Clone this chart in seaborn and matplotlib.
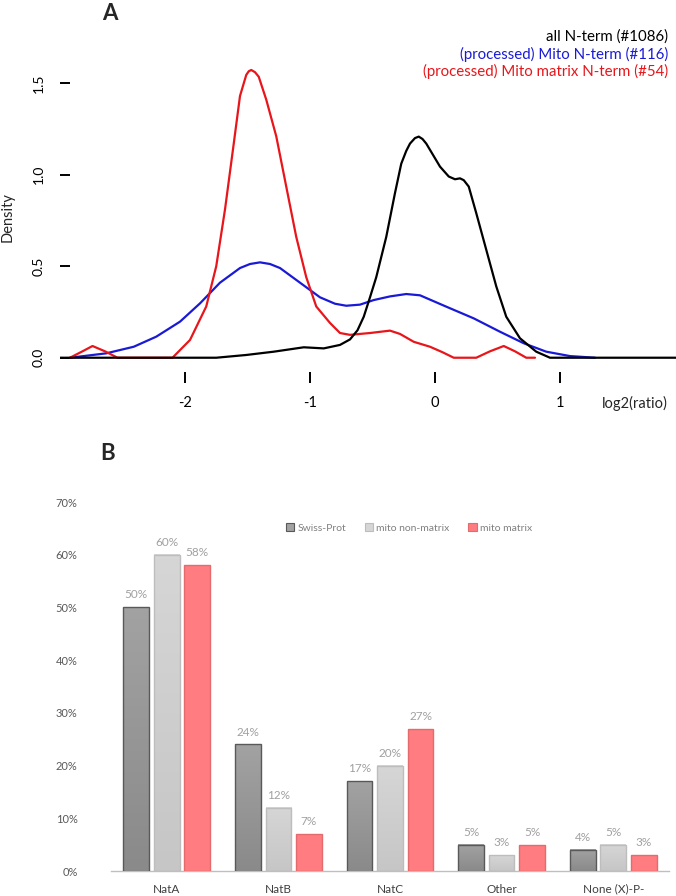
import numpy as np
import pandas as pd
import matplotlib
matplotlib.use("Agg")
import matplotlib.pyplot as plt
from matplotlib.patches import Patch
from matplotlib.colors import LinearSegmentedColormap
import seaborn as sns

# ---------------------------------------------------------------------------
# Panel A: density curves (log2 ratio -> density)
# ---------------------------------------------------------------------------

all_x = [-3.02, -1.75, -1.51, -1.29, -1.05, -0.89, -0.76, -0.68, -0.62, -0.57,
         -0.52, -0.47, -0.39, -0.32, -0.27, -0.23, -0.20, -0.16, -0.13, -0.10,
         -0.07, 0.04, 0.11, 0.16, 0.20, 0.23, 0.27, 0.33, 0.41, 0.49, 0.57,
         0.68, 0.81, 0.92, 1.95]
all_y = [0.0, 0.0, 0.015, 0.033, 0.057, 0.051, 0.07, 0.10, 0.15, 0.224,
         0.33, 0.44, 0.66, 0.90, 1.06, 1.13, 1.17, 1.20, 1.208, 1.195,
         1.17, 1.044, 0.99, 0.975, 0.98, 0.97, 0.935, 0.79, 0.59, 0.39, 0.224,
         0.106, 0.033, 0.0, 0.0]

mito_x = [-2.92, -2.63, -2.41, -2.23, -2.04, -1.88, -1.72, -1.56, -1.48, -1.40,
          -1.32, -1.24, -1.08, -0.92, -0.80, -0.71, -0.60, -0.49, -0.36, -0.23,
          -0.12, 0.09, 0.31, 0.52, 0.71, 0.89, 1.08, 1.28]
mito_y = [0.0, 0.024, 0.06, 0.115, 0.197, 0.297, 0.41, 0.49, 0.512, 0.521,
          0.512, 0.49, 0.41, 0.33, 0.295, 0.284, 0.29, 0.315, 0.335, 0.348,
          0.341, 0.279, 0.215, 0.142, 0.079, 0.033, 0.009, 0.0]

matrix_x = [-2.92, -2.82, -2.74, -2.64, -2.54, -2.10, -1.96, -1.83, -1.75, -1.68,
            -1.61, -1.56, -1.51, -1.49, -1.47, -1.44, -1.41, -1.35, -1.27, -1.19,
            -1.11, -1.03, -0.95, -0.84, -0.76, -0.68, -0.52, -0.36, -0.28,
            -0.17, -0.04, 0.06, 0.15, 0.33, 0.44, 0.55, 0.64, 0.73, 0.80]
matrix_y = [0.0, 0.035, 0.064, 0.035, 0.0, 0.0, 0.097, 0.28, 0.50, 0.81,
            1.17, 1.43, 1.545, 1.565, 1.572, 1.56, 1.535, 1.41, 1.21, 0.935,
            0.66, 0.44, 0.28, 0.19, 0.135, 0.125, 0.135, 0.148, 0.13,
            0.087, 0.06, 0.03, 0.0, 0.0, 0.035, 0.064, 0.035, 0.0, 0.0]

legend_a = ["all N-term (#1086)",
            "(processed) Mito N-term (#116)",
            "(processed) Mito matrix N-term (#54)"]
colors_a = ["black", "#1a1ad6", "#e8161b"]

# ---------------------------------------------------------------------------
# Panel B: N-terminal acetyltransferase classes (% of N-termini)
# ---------------------------------------------------------------------------

nat_classes = ["NatA", "NatB", "NatC", "Other", "None (X)-P-"]
groups = ["Swiss-Prot", "mito non-matrix", "mito matrix"]
swissprot = [50, 24, 17, 5, 4]
mito_nonmatrix = [60, 12, 20, 3, 5]
mito_matrix = [58, 7, 27, 5, 3]

bar_face = ["#a2a2a2", "#d6d6d6", "#ff7c80"]
bar_edge = ["#595959", "#bdbdbd", "#e36b6e"]
grad_bottom = ["#8a8a8a", "#c6c6c6", None]

df_b = pd.DataFrame({
    "cls": nat_classes * 3,
    "group": [g for g in groups for _ in nat_classes],
    "pct": swissprot + mito_nonmatrix + mito_matrix,
})

W, H = 676, 896
sns.set_theme(style="white")
plt.rcParams["font.family"] = ["Lato", "DejaVu Sans"]

fig = plt.figure(figsize=(W / 100, H / 100), dpi=100)


def fig_box(left, top, right, bottom):
    """Pixel box -> figure fraction rect."""
    return [left / W, 1 - bottom / H, (right - left) / W, (bottom - top) / H]


# ---------------------------------------------------------------------------
# Panel A
# ---------------------------------------------------------------------------
axA = fig.add_axes(fig_box(60, 61.2, 676, 372))
curves = [(mito_x, mito_y, colors_a[1]),
          (matrix_x, matrix_y, colors_a[2]),
          (all_x, all_y, colors_a[0])]
for xs, ys, c in curves:
    sns.lineplot(x=xs, y=ys, sort=False, estimator=None, color=c,
                 linewidth=1.6, ax=axA, solid_joinstyle="round")

axA.set_xlim(-3.0, 1.928)
axA.set_ylim(-0.078, 1.62)
for s in axA.spines.values():
    s.set_visible(False)
axA.set_xticks([-2, -1, 0, 1])
axA.set_xticklabels(["-2", "-1", "0", "1"], fontsize=10.5)
axA.set_yticks([0, 0.5, 1.0, 1.5])
axA.set_yticklabels(["0.0", "0.5", "1.0", "1.5"], fontsize=10,
                    rotation=90, va="center")
axA.tick_params(axis="x", direction="out", length=8, width=1.4, pad=9,
                bottom=True, colors="black")
axA.tick_params(axis="y", direction="in", length=7, width=1.4, pad=11,
                left=True, colors="black")
axA.set_ylabel("Density", fontsize=10.5)
axA.yaxis.set_label_coords(-0.073, 0.5)
axA.set_xlabel("")

fig.text(635 / W, 1 - 403 / H, "log2(ratio)", fontsize=10.5,
         ha="center", va="center")
for i, (lab, c) in enumerate(zip(legend_a, colors_a)):
    fig.text(668 / W, 1 - (37 + 17 * i) / H, lab, color=c, fontsize=10.8,
             ha="right", va="center")
fig.text(110 / W, 1 - 14 / H, "A", fontsize=16, fontweight="bold",
         ha="center", va="center")

# ---------------------------------------------------------------------------
# Panel B
# ---------------------------------------------------------------------------
axB = fig.add_axes(fig_box(111, 502, 669, 871))
sns.barplot(data=df_b, x="cls", y="pct", hue="group", hue_order=groups,
            palette=bar_face, saturation=1, width=0.82, gap=0.16,
            legend=False, linewidth=1.0, ax=axB)

for k, cont in enumerate(axB.containers):
    for bar in cont:
        bar.set_edgecolor(bar_edge[k])
        bar.set_zorder(3)
        if grad_bottom[k] is not None:
            cmap = LinearSegmentedColormap.from_list(
                f"g{k}", [grad_bottom[k], bar_face[k]])
            x0, w, h = bar.get_x(), bar.get_width(), bar.get_height()
            axB.imshow(np.linspace(0, 1, 64).reshape(-1, 1),
                       extent=[x0, x0 + w, 0, h], origin="lower",
                       cmap=cmap, aspect="auto", zorder=2)
            bar.set_facecolor("none")
    axB.bar_label(cont, labels=[f"{v:.0f}%" for v in cont.datavalues],
                  padding=5, color="#a0a0a0", fontsize=8.5)

axB.set_xlim(-0.5, 4.5)
axB.set_ylim(0, 70)
axB.set_yticks(range(0, 71, 10))
axB.set_yticklabels([f"{v}%" for v in range(0, 71, 10)])
axB.tick_params(axis="y", length=0, pad=24, labelsize=8,
                labelcolor="#595959")
axB.tick_params(axis="x", length=0, pad=9, labelsize=8.5,
                labelcolor="#404040")
axB.set_xlabel("")
axB.set_ylabel("")
for name, s in axB.spines.items():
    s.set_visible(name == "bottom")
axB.spines["bottom"].set_color("#bfbfbf")
axB.spines["bottom"].set_linewidth(1.0)

handles = [Patch(facecolor=f, edgecolor=e, linewidth=0.8)
           for f, e in zip(bar_face, bar_edge)]
axB.legend(handles, groups, ncol=3, frameon=False, fontsize=7.5,
           labelcolor="#808080", handlelength=0.8, handleheight=0.8,
           handletextpad=0.3, columnspacing=1.8, loc="center",
           bbox_to_anchor=(409 / W, 1 - 528 / H),
           bbox_transform=fig.transFigure)

fig.text(108 / W, 1 - 453 / H, "B", fontsize=16, fontweight="bold",
         ha="center", va="center")

fig.savefig("out.png", dpi=100)
plt.close(fig)
